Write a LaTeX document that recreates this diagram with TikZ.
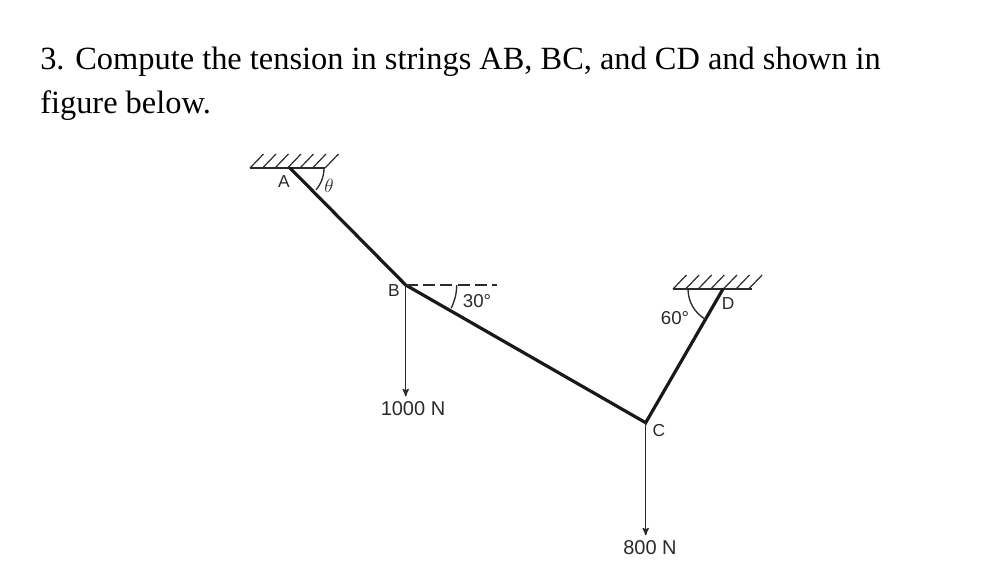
\documentclass[tikz,border=0pt]{standalone}
\usepackage{fontspec}
\setmainfont{Liberation Serif}
\newfontfamily\labelfont{Liberation Sans}
\usetikzlibrary{arrows}
\definecolor{inkgray}{HTML}{2A2A2A}
\tikzstyle{question} = [anchor=base west, inner sep=0pt, font=\fontsize{24.3}{28}\selectfont, text=black]
\tikzstyle{pointlabel} = [inner sep=0pt, font=\labelfont\fontsize{13}{15}\selectfont, text=inkgray]
\tikzstyle{anglelabel} = [inner sep=0pt, font=\labelfont\fontsize{14}{16}\selectfont, text=inkgray]
\tikzstyle{loadlabel} = [inner sep=0pt, font=\labelfont\fontsize{15}{17}\selectfont, text=inkgray]
\tikzstyle{string} = [line width=2.4pt, black!90, line cap=round]
\tikzstyle{thin} = [line width=1pt, inkgray]
\tikzstyle{hatch} = [line width=0.9pt, inkgray]
\tikzstyle{load} = [thin, -{stealth'}, >=stealth', shorten >=-1pt]
\begin{document}
\begin{tikzpicture}[x=0.75pt, y=-0.75pt]
\useasboundingbox (0,0) rectangle (992,572);
\node (line1) [question] at (40,69) {3. Compute the tension in strings AB, BC, and CD and shown in};
\node (line2) [question] at (40,113) {figure below.};

\coordinate (A) at (290,168);
\coordinate (B) at (405.7,285);
\coordinate (C) at (645.7,422.7);
\coordinate (D) at (723,289);
\coordinate (loadB) at (405.7,395);
\coordinate (loadC) at (645.7,534);
\coordinate (dashend) at (497,285);
\coordinate (ceilAl) at (250,168);
\coordinate (ceilAr) at (325,168);
\coordinate (ceilDl) at (673,289);
\coordinate (ceilDr) at (751.5,289);

% ceilings
\draw [thin] (ceilAl) -- (ceilAr);
\draw [thin] (ceilDl) -- (ceilDr);
\foreach \i in {0,...,6} {
  \draw [hatch] (250+12.5*\i,168) -- ++(13.5,-14);
  \draw [hatch] (673+12.6*\i,289) -- ++(13.5,-14);
}

% strings
\draw [string] (A) -- (B) -- (C) -- (D);

% loads
\draw [load] (B) -- (loadB);
\draw [load] (C) -- (loadC);
\draw [thin, dash pattern=on 9pt off 4pt] (B) -- (dashend);

% angles
\draw [thin] (324,168) arc [start angle=0, end angle=40, radius=34];
\draw [thin] (456.7,285) arc [start angle=0, end angle=27, radius=51];
\draw [thin] (688,289) arc [start angle=180, end angle=120, radius=35];

% labels
\node (labA) [pointlabel] at (284,182) {A};
\node (labB) [pointlabel] at (394,291) {B};
\node (labC) [pointlabel] at (659,431) {C};
\node (labD) [pointlabel] at (728,304) {D};
\node (labtheta) [pointlabel, font=\fontsize{15}{17}\selectfont] at (329,186) {$\theta$};
\node (lab30) [anglelabel] at (477,301) {30°};
\node (lab60) [anglelabel] at (675,318) {60°};
\node (lab1000) [loadlabel] at (413,409) {1000 N};
\node (lab800) [loadlabel] at (650,548) {800 N};
\end{tikzpicture}
\end{document}
